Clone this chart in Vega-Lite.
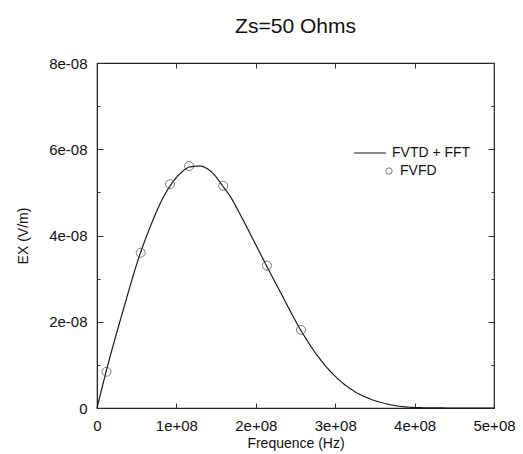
{
  "$schema": "https://vega.github.io/schema/vega-lite/v6.json",
  "autosize": "none",
  "width": 397,
  "height": 345,
  "padding": {"left": 97, "top": 63, "right": 29, "bottom": 46},
  "background": "white",
  "title": {"text": "Zs=50 Ohms", "fontSize": 21, "font": "Liberation Sans", "fontWeight": "normal", "color": "#111", "anchor": "middle", "offset": 19},
  "config": {
    "view": {"stroke": "#222", "strokeWidth": 1.2},
    "font": "Liberation Sans",
    "axis": {"grid": false, "domainColor": "#222", "tickColor": "#333", "labelColor": "#111", "titleColor": "#111", "labelFont": "Liberation Sans", "titleFont": "Liberation Sans", "labelFontSize": 15, "titleFontSize": 14, "titleFontWeight": "normal"},
    "legend": {"padding": 0, "labelFont": "Liberation Sans", "labelFontSize": 14, "labelColor": "#111"}
  },
  "datasets": {
    "fvtd": [
      {"f": 0, "ex": 0, "series": "FVTD + FFT"},
      {"f": 12000000, "ex": 0.88e-8, "series": "FVTD + FFT"},
      {"f": 33000000, "ex": 2.27e-8, "series": "FVTD + FFT"},
      {"f": 54000000, "ex": 3.56e-8, "series": "FVTD + FFT"},
      {"f": 67000000, "ex": 4.20e-8, "series": "FVTD + FFT"},
      {"f": 79000000, "ex": 4.72e-8, "series": "FVTD + FFT"},
      {"f": 92000000, "ex": 5.15e-8, "series": "FVTD + FFT"},
      {"f": 105000000, "ex": 5.44e-8, "series": "FVTD + FFT"},
      {"f": 117000000, "ex": 5.59e-8, "series": "FVTD + FFT"},
      {"f": 130000000, "ex": 5.61e-8, "series": "FVTD + FFT"},
      {"f": 146000000, "ex": 5.44e-8, "series": "FVTD + FFT"},
      {"f": 159000000, "ex": 5.13e-8, "series": "FVTD + FFT"},
      {"f": 168000000, "ex": 4.90e-8, "series": "FVTD + FFT"},
      {"f": 180000000, "ex": 4.50e-8, "series": "FVTD + FFT"},
      {"f": 188500000, "ex": 4.20e-8, "series": "FVTD + FFT"},
      {"f": 214000000, "ex": 3.28e-8, "series": "FVTD + FFT"},
      {"f": 230000000, "ex": 2.72e-8, "series": "FVTD + FFT"},
      {"f": 256500000, "ex": 1.81e-8, "series": "FVTD + FFT"},
      {"f": 281000000, "ex": 1.13e-8, "series": "FVTD + FFT"},
      {"f": 302000000, "ex": 0.70e-8, "series": "FVTD + FFT"},
      {"f": 323000000, "ex": 0.40e-8, "series": "FVTD + FFT"},
      {"f": 344000000, "ex": 0.21e-8, "series": "FVTD + FFT"},
      {"f": 365000000, "ex": 0.095e-8, "series": "FVTD + FFT"},
      {"f": 386000000, "ex": 0.03e-8, "series": "FVTD + FFT"},
      {"f": 405000000, "ex": 0.008e-8, "series": "FVTD + FFT"},
      {"f": 450000000, "ex": 0, "series": "FVTD + FFT"},
      {"f": 500000000, "ex": 0, "series": "FVTD + FFT"}
    ],
    "fvfd": [
      {"f": 12000000, "ex": 0.84e-8, "series": "FVFD"},
      {"f": 55000000, "ex": 3.60e-8, "series": "FVFD"},
      {"f": 92000000, "ex": 5.19e-8, "series": "FVFD"},
      {"f": 116000000, "ex": 5.61e-8, "series": "FVFD"},
      {"f": 159000000, "ex": 5.15e-8, "series": "FVFD"},
      {"f": 214000000, "ex": 3.30e-8, "series": "FVFD"},
      {"f": 257000000, "ex": 1.81e-8, "series": "FVFD"}
    ]
  },
  "resolve": {"axis": {"x": "independent", "y": "independent"}},
  "layer": [
    {
      "data": {"name": "fvtd"},
      "mark": {"type": "line", "color": "#1a1a1a", "strokeWidth": 1.2, "interpolate": "monotone"},
      "encoding": {
        "x": {"field": "f", "type": "quantitative", "scale": {"domain": [0, 500000000], "nice": false, "zero": false},
          "axis": {"title": "Frequence (Hz)", "values": [0, 100000000, 200000000, 300000000, 400000000, 500000000], "tickSize": -5, "labelPadding": 15, "titlePadding": 3,
            "labelExpr": "datum.value == 0 ? '0' : replace(format(datum.value, '.0e'), 'e+8', 'e+08')", "labelFlush": false, "labelOverlap": false}},
        "y": {"field": "ex", "type": "quantitative", "scale": {"domain": [0, 8e-8], "nice": false, "zero": false},
          "axis": {"title": "EX (V/m)", "values": [0, 1e-8, 2e-8, 3e-8, 4e-8, 5e-8, 6e-8, 7e-8, 8e-8],
            "tickSize": {"condition": {"test": "round(datum.value*1e8) % 2 == 1", "value": -3}, "value": -6},
            "labelPadding": 16, "titlePadding": 18, "labelOverlap": false, "labelFlush": false,
            "labelExpr": "datum.value == 0 ? '0' : (round(datum.value*1e8) % 2 == 1 ? '' : replace(format(datum.value, '.0e'), 'e-8', 'e-08'))"}},
        "strokeDash": {"field": "series", "type": "nominal", "scale": {"domain": ["FVTD + FFT"], "range": [[1, 0]]},
          "legend": {"title": null, "orient": "none", "legendX": 256, "legendY": 73, "symbolSize": 1024, "symbolStrokeWidth": 1.2, "symbolStrokeColor": "#1a1a1a", "labelOffset": 5}}
      }
    },
    {
      "data": {"name": "fvfd"},
      "mark": {"type": "point", "shape": "circle", "filled": false, "size": 81, "stroke": "#444", "strokeWidth": 1},
      "encoding": {
        "x": {"field": "f", "type": "quantitative",
          "axis": {"orient": "top", "title": null, "labels": false, "domain": false, "values": [0, 100000000, 200000000, 300000000, 400000000, 500000000], "tickSize": -5}},
        "y": {"field": "ex", "type": "quantitative",
          "axis": {"orient": "right", "title": null, "labels": false, "domain": false, "values": [0, 1e-8, 2e-8, 3e-8, 4e-8, 5e-8, 6e-8, 7e-8, 8e-8],
            "tickSize": {"condition": {"test": "round(datum.value*1e8) % 2 == 1", "value": -3}, "value": -6}}},
        "shape": {"field": "series", "type": "nominal", "scale": {"domain": ["FVFD"], "range": ["circle"]},
          "legend": {"title": null, "orient": "none", "legendX": 285, "legendY": 101, "symbolSize": 40, "symbolStrokeColor": "#444", "symbolFillColor": "transparent", "symbolStrokeWidth": 1, "labelOffset": 4}}
      }
    }
  ]
}
